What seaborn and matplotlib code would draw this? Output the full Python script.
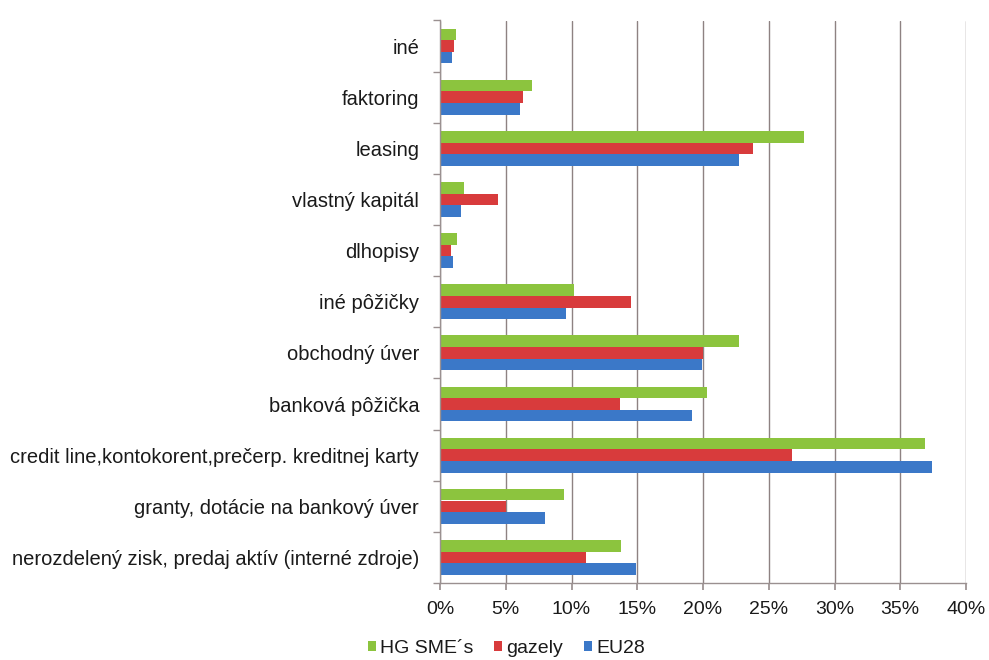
import matplotlib
matplotlib.use("Agg")
import matplotlib.pyplot as plt
import matplotlib.ticker as mticker
from matplotlib.patches import Patch
import seaborn as sns
import pandas as pd

categories = [
    "iné",
    "faktoring",
    "leasing",
    "vlastný kapitál",
    "dlhopisy",
    "iné pôžičky",
    "obchodný úver",
    "banková pôžička",
    "credit line,kontokorent,prečerp. kreditnej karty",
    "granty, dotácie na bankový úver",
    "nerozdelený zisk, predaj aktív (interné zdroje)",
]
series_names = ["HG SME´s", "gazely", "EU28"]
hg_sme = [1.2, 7.0, 27.7, 1.8, 1.3, 10.2, 22.7, 20.3, 36.9, 9.4, 13.8]
gazely = [1.1, 6.3, 23.8, 4.4, 0.8, 14.5, 20.0, 13.7, 26.8, 5.0, 11.1]
eu28 = [0.9, 6.1, 22.7, 1.6, 1.0, 9.6, 19.9, 19.2, 37.4, 8.0, 14.9]
x_ticks = [0, 5, 10, 15, 20, 25, 30, 35, 40]
colors = ["#8cc43e", "#d83b3c", "#3b78c8"]

rows = []
for name, vals in zip(series_names, [hg_sme, gazely, eu28]):
    for c, v in zip(categories, vals):
        rows.append({"kategória": c, "séria": name, "hodnota": v})
df = pd.DataFrame(rows)

sns.set_theme(style="white")
plt.rcParams["font.family"] = ["Liberation Sans", "DejaVu Sans"]

fig = plt.figure(figsize=(9.89, 6.60), dpi=100)
ax = fig.add_axes([440 / 989, 1 - 583 / 660, (966 - 440) / 989, (583 - 20.5) / 660])

sns.barplot(
    data=df, y="kategória", x="hodnota", hue="séria",
    order=categories, hue_order=series_names, palette=colors,
    orient="h", width=0.68, saturation=1, ax=ax, legend=False,
    linewidth=0, edgecolor="none",
)

ax.set_xlim(0, 40)
ax.set_ylim(len(categories) - 0.5, -0.5)
ax.set_xticks(x_ticks)
ax.xaxis.set_major_formatter(mticker.FuncFormatter(lambda v, p: f"{int(v)}%"))
ax.grid(axis="x", color="#8e8282", linewidth=1.0)
ax.set_axisbelow(True)
ax.set_xlabel("")
ax.set_ylabel("")

for s in ["top", "right"]:
    ax.spines[s].set_visible(False)
for s in ["left", "bottom"]:
    ax.spines[s].set_color("#9a9090")
    ax.spines[s].set_linewidth(1.0)

ax.tick_params(axis="x", which="major", length=5, color="#9a9090", labelsize=14, pad=8,
               bottom=True, labelcolor="#1a1a1a")
ax.tick_params(axis="y", which="major", length=0, labelsize=14.5, pad=15, labelcolor="#1a1a1a")
ax.set_yticks([i + 0.5 for i in range(-1, len(categories))], minor=True)
ax.tick_params(axis="y", which="minor", length=5, color="#9a9090", left=True)

handles = [Patch(facecolor=c, edgecolor="none") for c in colors]
fig.legend(handles, series_names, loc="lower center", bbox_to_anchor=(0.512, -0.022),
           ncol=3, frameon=False, fontsize=14, handlelength=0.4, handleheight=0.4,
           handletextpad=0.2, columnspacing=1.1, labelcolor="#1a1a1a")

fig.savefig("out.png", dpi=100)
